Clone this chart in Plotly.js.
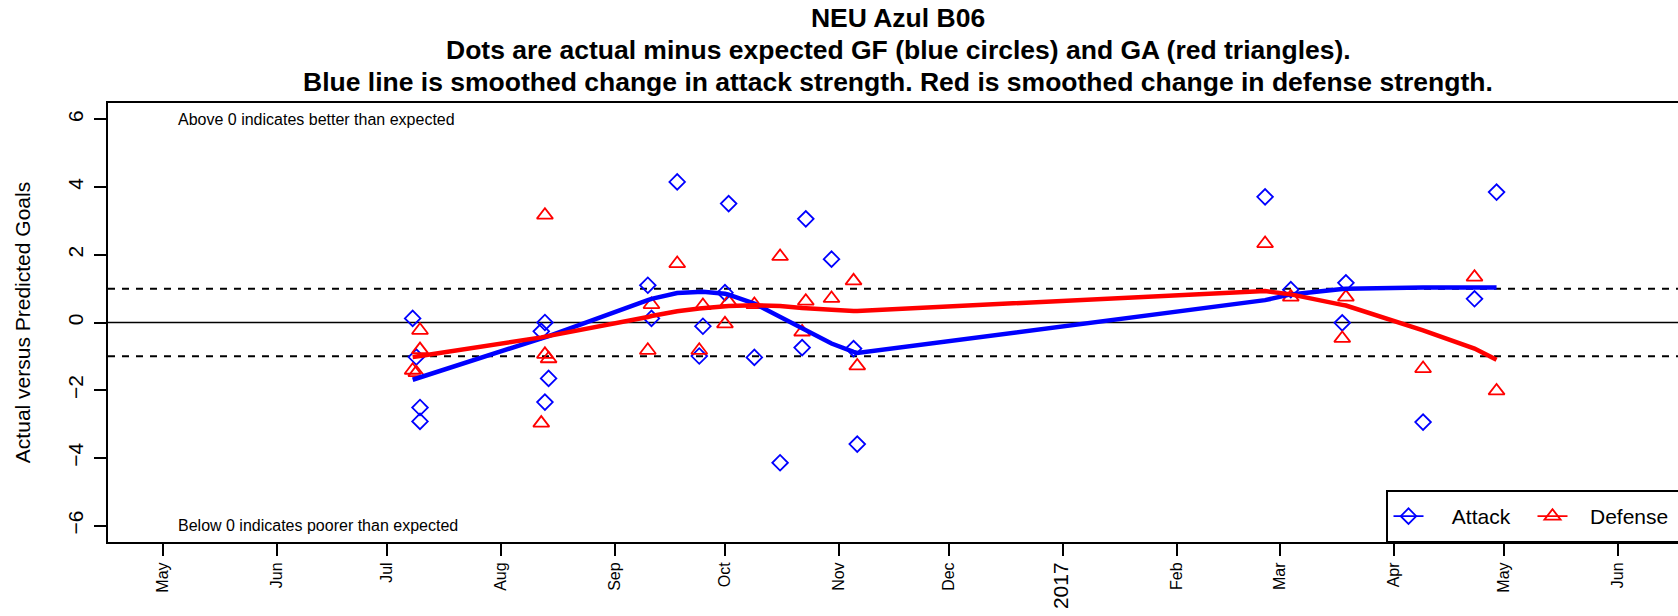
<!DOCTYPE html>
<html>
<head>
<meta charset="utf-8">
<script src="https://cdn.plot.ly/plotly-3.0.1.min.js"></script>
<style>
html, body { margin: 0; padding: 0; overflow: hidden; background: #fff; }
#plot { width: 1692px; height: 616px; }
</style>
</head>
<body>
<div id="plot"></div>
<script>
// ---- data ----
const gameDates = [
  '2016-07-08', '2016-07-09', '2016-07-10', '2016-07-10',
  '2016-08-12', '2016-08-13', '2016-08-13', '2016-08-14',
  '2016-09-10', '2016-09-11', '2016-09-18', '2016-09-24', '2016-09-25',
  '2016-10-01', '2016-10-02', '2016-10-09', '2016-10-16', '2016-10-22',
  '2016-10-23', '2016-10-30', '2016-11-05', '2016-11-06',
  '2017-02-25', '2017-03-04', '2017-03-18', '2017-03-19',
  '2017-04-09', '2017-04-23', '2017-04-29'
];
const attackDiff = [
  0.12, -1.02, -2.51, -2.92,
  -0.26, 0.00, -2.35, -1.65,
  1.10, 0.12, 4.15, -0.99, -0.11,
  0.88, 3.51, -1.03, -4.14, -0.74,
  3.06, 1.87, -0.77, -3.59,
  3.71, 0.97, -0.01, 1.17,
  -2.94, 0.70, 3.85
];
const defenseDiff = [
  -1.41, -1.48, -0.23, -0.80,
  -2.97, 3.17, -0.94, -1.07,
  -0.82, 0.53, 1.74, -0.82, 0.50,
  -0.04, 0.61, 0.53, 1.95, -0.28,
  0.63, 0.71, 1.23, -1.28,
  2.33, 0.75, -0.47, 0.75,
  -1.36, 1.34, -2.02
];
const attackSmooth = [
  -1.69, -1.655, -1.62, -1.62,
  -0.47, -0.43, -0.43, -0.40,
  0.66, 0.70, 0.87, 0.92, 0.91,
  0.85, 0.82, 0.56, 0.17, -0.18,
  -0.25, -0.62, -0.87, -0.90,
  0.66, 0.83, 0.99, 1.00,
  1.03, 1.04, 1.03
];
const defenseSmooth = [
  -1.02, -1.00, -0.99, -0.99,
  -0.44, -0.42, -0.42, -0.40,
  0.16, 0.19, 0.33, 0.41, 0.42,
  0.48, 0.49, 0.51, 0.49, 0.43,
  0.42, 0.38, 0.34, 0.34,
  0.93, 0.83, 0.52, 0.50,
  -0.23, -0.77, -1.10
];
const tickDates = [
  '2016-05-01', '2016-06-01', '2016-07-01', '2016-08-01', '2016-09-01',
  '2016-10-01', '2016-11-01', '2016-12-01', '2017-01-01', '2017-02-01',
  '2017-03-01', '2017-04-01', '2017-05-01', '2017-06-01'
];
const tickLabels = ['May', 'Jun', 'Jul', 'Aug', 'Sep', 'Oct', 'Nov', 'Dec',
  '2017', 'Feb', 'Mar', 'Apr', 'May', 'Jun'];
const yTicks = [-6, -4, -2, 0, 2, 4, 6];
const refLevels = [0, 1, -1];
const seriesNames = ['Attack', 'Defense'];
const titleLines = [
  'NEU Azul B06',
  'Dots are actual minus expected GF (blue circles) and GA (red triangles).',
  'Blue line is smoothed change in attack strength. Red is smoothed change in defense strength.'
];
const noteAbove = 'Above 0 indicates better than expected';
const noteBelow = 'Below 0 indicates poorer than expected';
const noteX = '2016-05-04 12:00';

// ---- styling / layout helpers ----
const FONT = 'Liberation Sans, Arial, Helvetica, sans-serif';
const BLUE = '#0000ff';
const RED = '#ff0000';
const NBSP = '\u00a0';
const W = 1692, H = 616;
const M = { l: 108, r: 4, t: 103, b: 74 };
const plotW = W - M.l - M.r, plotH = H - M.t - M.b;
const pxToPaperY = p => (H - M.b - p) / plotH;
const pxToPaperX = p => (p - M.l) / plotW;

const tickText = tickLabels.map(t => /^\d{4}$/.test(t)
  ? '<span style="font-size:21px">' + t + '</span>' : t);

const diamondMarker = { symbol: 'diamond-open', size: 12, color: BLUE, line: { color: BLUE, width: 1.8 } };
const triangleMarker = { symbol: 'triangle-up-open', size: 14, color: RED, line: { color: RED, width: 1.8 } };

const traces = [
  { x: gameDates, y: attackDiff, type: 'scatter', mode: 'markers',
    marker: diamondMarker, showlegend: false },
  { x: gameDates, y: defenseDiff, type: 'scatter', mode: 'markers',
    marker: triangleMarker, showlegend: false },
  { x: gameDates, y: attackSmooth, type: 'scatter', mode: 'lines',
    line: { color: BLUE, width: 4.5 }, showlegend: false },
  { x: gameDates, y: defenseSmooth, type: 'scatter', mode: 'lines',
    line: { color: RED, width: 4.5 }, showlegend: false },
  { x: [null], y: [null], type: 'scatter', mode: 'lines+markers',
    name: NBSP + NBSP + NBSP + NBSP + seriesNames[0],
    line: { color: BLUE, width: 1.8 }, marker: diamondMarker },
  { x: [null], y: [null], type: 'scatter', mode: 'lines+markers',
    name: NBSP + NBSP + NBSP + seriesNames[1],
    line: { color: RED, width: 1.8 }, marker: triangleMarker }
];

const shapes = refLevels.map(v => ({
  type: 'line', xref: 'paper', x0: 0, x1: 1, yref: 'y', y0: v, y1: v,
  line: { color: '#000', width: v === 0 ? 1.6 : 2, dash: v === 0 ? 'solid' : '7px,7px' },
  layer: 'below'
}));
// legend frame (R-style legend box at the bottom-right of the plot)
shapes.push({
  type: 'rect', xref: 'paper', yref: 'paper',
  x0: pxToPaperX(1387), x1: 1.02, y0: 0, y1: pxToPaperY(491),
  line: { color: '#000', width: 2 }, fillcolor: '#fff', layer: 'above'
});

const titleFont = { family: FONT, size: 26.5, color: '#000', weight: 'bold' };
const noteFont = { family: FONT, size: 16, color: '#000' };

const layout = {
  width: W, height: H,
  margin: { l: M.l, r: M.r, t: M.t, b: M.b, pad: 0 },
  paper_bgcolor: '#fff', plot_bgcolor: '#fff',
  font: { family: FONT, color: '#000', size: 16 },
  title: {
    text: titleLines[0], font: titleFont,
    xref: 'paper', x: 0.5, xanchor: 'center',
    yref: 'container', y: 1 - 18 / H, yanchor: 'middle'
  },
  xaxis: {
    type: 'date',
    range: ['2016-04-16 02:00', '2017-06-20 02:30'],
    tickmode: 'array', tickvals: tickDates, ticktext: tickText,
    tickangle: -90, tickfont: { family: FONT, size: 16, color: '#000' },
    ticks: 'outside', ticklen: 12, tickwidth: 2, tickcolor: '#000',
    showline: true, linecolor: '#000', linewidth: 2, mirror: true,
    showgrid: false, zeroline: false, automargin: false
  },
  yaxis: {
    range: [-6.48, 6.48],
    tickmode: 'array', tickvals: yTicks,
    ticktext: yTicks.map(v => v < 0 ? '\u2212' + Math.abs(v) : String(v)),
    tickangle: -90, tickfont: { family: FONT, size: 21, color: '#000' },
    ticklabelstandoff: 3,
    ticks: 'outside', ticklen: 12, tickwidth: 2, tickcolor: '#000',
    showline: true, linecolor: '#000', linewidth: 2, mirror: true,
    showgrid: false, zeroline: false, automargin: false,
    title: { text: 'Actual versus Predicted Goals', font: { family: FONT, size: 21, color: '#000' }, standoff: 27 }
  },
  shapes: shapes,
  annotations: [
    { x: 0.5, y: pxToPaperY(50.3), xref: 'paper', yref: 'paper', text: titleLines[1],
      showarrow: false, xanchor: 'center', yanchor: 'middle', font: titleFont },
    { x: 0.5, y: pxToPaperY(81.5), xref: 'paper', yref: 'paper', text: titleLines[2],
      showarrow: false, xanchor: 'center', yanchor: 'middle', font: titleFont },
    { x: noteX, y: yTicks[yTicks.length - 1], xref: 'x', yref: 'y', text: noteAbove, showarrow: false,
      xanchor: 'left', yanchor: 'middle', font: noteFont },
    { x: noteX, y: yTicks[0], xref: 'x', yref: 'y', text: noteBelow, showarrow: false,
      xanchor: 'left', yanchor: 'middle', font: noteFont }
  ],
  showlegend: true,
  legend: {
    orientation: 'h', x: pxToPaperX(1388.5), xanchor: 'left',
    y: pxToPaperY(516.5), yanchor: 'middle',
    bgcolor: 'rgba(0,0,0,0)', borderwidth: 0,
    font: { family: FONT, size: 21, color: '#000' },
    entrywidth: 99, entrywidthmode: 'pixels',
    traceorder: 'normal'
  }
};

Plotly.newPlot('plot', traces, layout, { displayModeBar: false, staticPlot: true });
</script>
</body>
</html>
